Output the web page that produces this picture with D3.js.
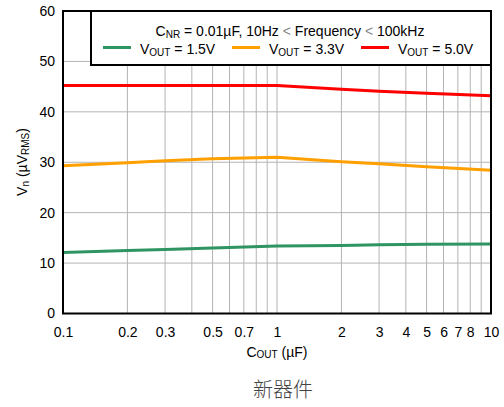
<!DOCTYPE html>
<html><head><meta charset="utf-8">
<script src="https://cdn.jsdelivr.net/npm/d3@7"></script>
<style>body{margin:0;background:#fff}svg{display:block;font-family:"Liberation Sans",Arial,sans-serif}</style>
</head><body>
<svg id="c" width="504" height="407"></svg>
<script>
const xVals = [0.1, 0.2, 0.3, 0.5, 1, 2, 3, 5, 10];
const v15 = [12.1, 12.5, 12.7, 13.0, 13.4, 13.5, 13.65, 13.75, 13.8];
const v33 = [29.3, 29.9, 30.3, 30.7, 31.0, 30.1, 29.7, 29.1, 28.4];
const v50 = [45.2, 45.2, 45.2, 45.2, 45.2, 44.5, 44.1, 43.7, 43.2];
const seriesNames = ["1.5V", "3.3V", "5.0V"];
const seriesColors = ["#2e9461", "#ffa000", "#ff0000"];
const xTickVals = [0.1, 0.2, 0.3, 0.5, 0.7, 1, 2, 3, 4, 5, 6, 7, 8, 10];
const xGridVals = [0.2,0.3,0.4,0.5,0.6,0.7,0.8,0.9,1,2,3,4,5,6,7,8,9];
const yTickVals = [0, 10, 20, 30, 40, 50, 60];

const svg = d3.select("#c");
const L = 63, R = 491, T = 11, B = 313.5;
const x = d3.scaleLog().domain([0.1, 10]).range([L, R]);
const y = d3.scaleLinear().domain([0, 60]).range([B, T]);

// grid
svg.append("g").selectAll("line").data(xGridVals).join("line")
  .attr("x1", d => x(d)).attr("x2", d => x(d)).attr("y1", T).attr("y2", B)
  .attr("stroke", "#b4b4b4").attr("stroke-width", 1);
svg.append("g").selectAll("line").data(yTickVals.slice(1, -1)).join("line")
  .attr("x1", L).attr("x2", R).attr("y1", d => y(d)).attr("y2", d => y(d))
  .attr("stroke", "#b4b4b4").attr("stroke-width", 1);

// axes labels via d3 axes
const xAxis = d3.axisBottom(x).tickValues(xTickVals).tickFormat(d => String(d)).tickSize(0).tickPadding(14);
const gx = svg.append("g").attr("transform", `translate(0,${B})`).call(xAxis);
gx.select(".domain").remove();
gx.selectAll("text").attr("font-size", 14).attr("fill", "#000").attr("font-family", "Liberation Sans, Arial, sans-serif");

const yAxis = d3.axisLeft(y).tickValues(yTickVals).tickSize(0).tickPadding(8);
const gy = svg.append("g").attr("transform", `translate(${L},0)`).call(yAxis);
gy.select(".domain").remove();
gy.selectAll("text").attr("font-size", 14).attr("fill", "#000").attr("font-family", "Liberation Sans, Arial, sans-serif");

// lines
const line = d3.line().x(d => x(d[0])).y(d => y(d[1]));
[v15, v33, v50].forEach((vals, i) => {
  svg.append("path").datum(xVals.map((xv, j) => [xv, vals[j]]))
    .attr("d", line).attr("fill", "none").attr("stroke", seriesColors[i]).attr("stroke-width", 3);
});

// frame
svg.append("rect").attr("x", L).attr("y", T).attr("width", R - L).attr("height", B - T)
  .attr("fill", "none").attr("stroke", "#000").attr("stroke-width", 2);

// legend box
const lg = svg.append("g");
lg.append("rect").attr("x", 91).attr("y", T).attr("width", R - 91).attr("height", 54)
  .attr("fill", "#fff").attr("stroke", "#000").attr("stroke-width", 2);
const t1 = lg.append("text").attr("x", 290).attr("y", 36).attr("text-anchor", "middle").attr("font-size", 14);
t1.append("tspan").text("C");
t1.append("tspan").attr("font-size", 10).attr("dy", 2).text("NR");
t1.append("tspan").attr("dy", -2).text(" = 0.01\u00B5F, 10Hz ");
t1.append("tspan").attr("fill", "#888").text("<");
t1.append("tspan").text(" Frequency ");
t1.append("tspan").attr("fill", "#888").text("<");
t1.append("tspan").text(" 100kHz");

const legX = [103, 232, 361];
seriesNames.forEach((n, i) => {
  lg.append("line").attr("x1", legX[i]).attr("x2", legX[i] + 28).attr("y1", 47.5).attr("y2", 47.5)
    .attr("stroke", seriesColors[i]).attr("stroke-width", 3);
  const t = lg.append("text").attr("x", legX[i] + 37).attr("y", 53.5).attr("font-size", 14);
  t.append("tspan").text("V");
  t.append("tspan").attr("font-size", 10).attr("dy", 2).text("OUT");
  t.append("tspan").attr("dy", -2).text(" = " + n);
});

// axis titles
const xt = svg.append("text").attr("x", 277).attr("y", 357).attr("text-anchor", "middle").attr("font-size", 14);
xt.append("tspan").text("C");
xt.append("tspan").attr("font-size", 10).attr("dy", 1).text("OUT");
xt.append("tspan").attr("dy", -1).text(" (\u00B5F)");

const yt = svg.append("text").attr("transform", "translate(27,162) rotate(-90)").attr("text-anchor", "middle").attr("font-size", 14);
yt.append("tspan").text("V");
yt.append("tspan").attr("font-size", 10).attr("dy", 2).text("n");
yt.append("tspan").attr("dy", -2).text(" (\u00B5V");
yt.append("tspan").attr("font-size", 10).attr("dy", 2).text("RMS");
yt.append("tspan").attr("dy", -2).text(")");

svg.append("text").attr("x", 283).attr("y", 397).attr("text-anchor", "middle")
  .attr("font-size", 20).attr("fill", "#444").attr("font-weight", 300).attr("font-family", "Noto Sans CJK SC, sans-serif").text("新器件");
</script>
</body></html>
